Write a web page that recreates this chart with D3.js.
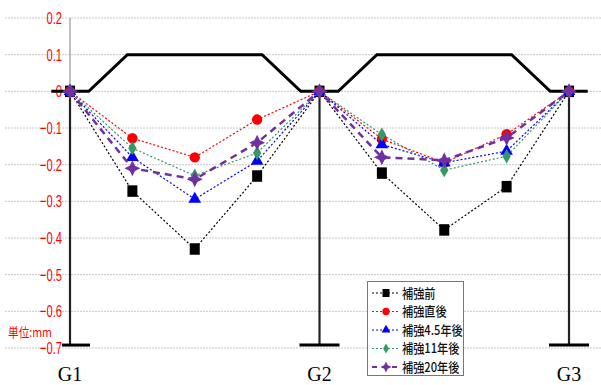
<!DOCTYPE html>
<html>
<head>
<meta charset="utf-8">
<script src="https://cdn.jsdelivr.net/npm/d3@7"></script>
<style>
  body { margin: 0; background: #fff; }
</style>
</head>
<body>
<svg id="chart"></svg>
<script>
// Data
let points = [0, 1, 2, 3, 4, 5, 6, 7, 8];
let girders = [{name: "G1", i: 0}, {name: "G2", i: 4}, {name: "G3", i: 8}];
let yTicks = [0.2, 0.1, 0, -0.1, -0.2, -0.3, -0.4, -0.5, -0.6, -0.7];

let before   = [0, -0.272, -0.43, -0.231, 0, -0.223, -0.378, -0.26, 0];
let justAfter = [0, -0.128, -0.18, -0.077, 0, -0.13, -0.195, -0.117, 0];
let after4_5 = [0, -0.18, -0.294, -0.19, 0, -0.145, -0.195, -0.163, 0];
let after11  = [0, -0.155, -0.23, -0.168, 0, -0.118, -0.215, -0.177, 0];
let after20  = [0, -0.21, -0.24, -0.14, 0, -0.18, -0.188, -0.127, 0];

// deck profile (x in span index units, y in mm-scale units)
let profileX = [-0.3, 0.3, 0.92, 3.08, 3.7, 4.3, 4.92, 7.08, 7.7, 8.3];
let profileY = [0, 0, 0.1, 0.1, 0, 0, 0.1, 0.1, 0, 0];

let series = [
  {name: "補強前", values: before, color: "#000000", dash: "2,2", width: 1.2, symbol: "square"},
  {name: "補強直後", values: justAfter, color: "#ff0000", dash: "2,2", width: 1.2, symbol: "circle"},
  {name: "補強4.5年後", values: after4_5, color: "#0000ff", dash: "2,2", width: 1.2, symbol: "triangle"},
  {name: "補強11年後", values: after11, color: "#339966", dash: "2,2", width: 1.2, symbol: "diamond"},
  {name: "補強20年後", values: after20, color: "#7030a0", dash: "7,5", width: 2.5, symbol: "star"}
];

let width = 601, height = 385;
let svg = d3.select("#chart").attr("width", width).attr("height", height);

let xax = d3.scaleLinear().domain([0, 8]).range([70, 569]);
let yax = d3.scaleLinear().domain([-0.7, 0.2]).range([348, 18]);

let tickFont = "'Liberation Sans', Arial, sans-serif";
let jpFont = "'Noto Sans CJK JP', sans-serif";

// gridlines
svg.append("g")
  .selectAll("line")
  .data(yTicks)
  .join("line")
    .attr("x1", 5)
    .attr("x2", width)
    .attr("y1", d => yax(d))
    .attr("y2", d => yax(d))
    .attr("stroke", "#c8c8c8")
    .attr("stroke-width", 1)
    .attr("stroke-dasharray", "2,1");

// y axis (upper gray part)
svg.append("line")
  .attr("x1", xax(0)).attr("x2", xax(0))
  .attr("y1", yax(0.2)).attr("y2", yax(0))
  .attr("stroke", "#aaaaaa")
  .attr("stroke-width", 1.5);

// tick labels (condensed)
svg.append("g")
  .selectAll("text")
  .data(yTicks)
  .join("text")
    .attr("transform", d => `translate(62,${yax(d)}) scale(0.66,1)`)
    .attr("dy", "0.36em")
    .attr("text-anchor", "end")
    .attr("fill", "#ff0000")
    .attr("font-family", tickFont)
    .attr("font-size", 17)
    .text(d => d3.format(".1~f")(d));

svg.append("text")
  .attr("transform", "translate(8,337) scale(0.82,1)")
  .attr("fill", "#ff0000")
  .attr("font-family", jpFont)
  .attr("font-size", 13)
  .text("単位:mm");

// girder columns
let cols = svg.append("g");
cols.selectAll("line.col")
  .data(girders)
  .join("line")
    .attr("class", "col")
    .attr("x1", d => xax(d.i)).attr("x2", d => xax(d.i))
    .attr("y1", yax(0)).attr("y2", yax(-0.692))
    .attr("stroke", "#222")
    .attr("stroke-width", 2.2);
cols.selectAll("line.base")
  .data(girders)
  .join("line")
    .attr("class", "base")
    .attr("x1", d => Math.max(xax(d.i) - 20, 62)).attr("x2", d => xax(d.i) + 20)
    .attr("y1", yax(-0.692)).attr("y2", yax(-0.692))
    .attr("stroke", "#000")
    .attr("stroke-width", 3);

// deck profile
let profile = profileX.map((d, i) => [d, profileY[i]]);
svg.append("path")
  .attr("d", d3.line().x(d => xax(d[0])).y(d => yax(d[1]))(profile))
  .attr("fill", "none")
  .attr("stroke", "#000")
  .attr("stroke-width", 3)
  .attr("stroke-linejoin", "miter");

// girder labels
svg.append("g")
  .selectAll("text")
  .data(girders)
  .join("text")
    .attr("x", d => xax(d.i))
    .attr("y", 381)
    .attr("text-anchor", "middle")
    .attr("font-family", "'Liberation Serif', 'Times New Roman', serif")
    .attr("font-size", 20)
    .attr("fill", "#000")
    .text(d => d.name);

// symbols
let symbolPath = {
  square: d3.symbol(d3.symbolSquare, 100)(),
  circle: d3.symbol(d3.symbolCircle, 85)(),
  triangle: d3.symbol(d3.symbolTriangle, 70)(),
  diamond: d3.symbol(d3.symbolDiamond, 60)(),
  star: "M0,-8 L2.6,-2.6 L8,0 L2.6,2.6 L0,8 L-2.6,2.6 L-8,0 L-2.6,-2.6 Z"
};
function symbolScale(s) {
  return s == "square" ? "scale(1,1.15)" : "";
}

let line = d3.line()
  .x((d, i) => xax(points[i]))
  .y(d => yax(d));

series.forEach(s => {
  let g = svg.append("g");
  g.append("path")
    .attr("d", line(s.values))
    .attr("fill", "none")
    .attr("stroke", s.color)
    .attr("stroke-width", s.width)
    .attr("stroke-dasharray", s.dash);
  g.selectAll("path.mk")
    .data(s.values)
    .join("path")
      .attr("class", "mk")
      .attr("d", symbolPath[s.symbol])
      .attr("transform", (d, i) => `translate(${xax(points[i])},${yax(d)}) ${symbolScale(s.symbol)}`)
      .attr("fill", s.color);
});

// legend
let lg = svg.append("g").attr("transform", "translate(367,281)");
lg.append("rect")
  .attr("x", 0.5).attr("y", 0.5)
  .attr("width", 96).attr("height", 94)
  .attr("fill", "#fff")
  .attr("stroke", "#777")
  .attr("stroke-width", 1);
let items = lg.selectAll("g.item")
  .data(series)
  .join("g")
    .attr("class", "item")
    .attr("transform", (d, i) => `translate(0,${12 + i * 18.5})`);
items.append("line")
  .attr("x1", 5).attr("x2", 33)
  .attr("stroke", d => d.color)
  .attr("stroke-width", d => d.width == 2.5 ? 1.8 : 1.2)
  .attr("stroke-dasharray", d => d.symbol == "star" ? "5,5" : "2,2");
items.append("path")
  .attr("d", d => symbolPath[d.symbol])
  .attr("transform", d => `translate(19,0) scale(0.7) ${symbolScale(d.symbol)}`)
  .attr("fill", d => d.color);
items.append("text")
  .attr("transform", "translate(35,0) scale(0.86,1)")
  .attr("dy", "0.36em")
  .attr("font-family", jpFont)
  .attr("font-size", 13)
  .attr("font-weight", 500)
  .attr("fill", "#111")
  .text(d => d.name);
</script>
</body>
</html>
